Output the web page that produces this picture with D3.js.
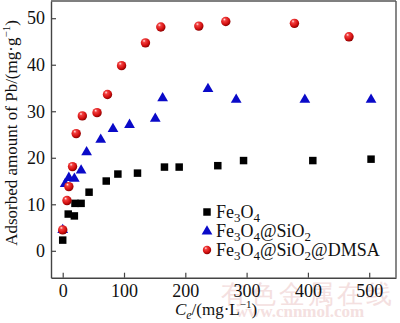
<!DOCTYPE html>
<html><head><meta charset="utf-8">
<script src="https://cdn.jsdelivr.net/npm/d3@7/dist/d3.min.js"></script>
<style>body{margin:0;background:#fff}svg{display:block}text{font-family:"Liberation Serif","Times New Roman",serif}</style>
</head><body><svg id="c" width="400" height="323"></svg>
<script>
const fe3o4X = [0, 9, 19, 20, 30, 43, 71, 90, 122, 166, 190, 253, 295, 408, 503];
const fe3o4Y = [2.3, 7.9, 7.5, 10.2, 10.2, 12.6, 15.0, 16.5, 16.7, 18.0, 18.0, 18.3, 19.4, 19.4, 19.7];
const sio2X = [0, 4, 10, 19, 30, 39, 62, 82, 109, 151, 163, 237, 283, 395, 503];
const sio2Y = [4.6, 14.5, 15.8, 15.6, 17.4, 21.3, 24.0, 26.3, 27.2, 28.5, 32.9, 34.9, 32.6, 32.6, 32.6];
const dmsaX = [0, 7, 10, 16, 22, 32, 56, 73, 96, 135, 160, 222, 266, 378, 467];
const dmsaY = [4.5, 10.8, 13.8, 18.1, 25.2, 29.0, 29.7, 33.6, 39.8, 44.7, 48.1, 48.3, 49.3, 48.9, 46.0];
const xTicks = [0, 100, 200, 300, 400, 500];
const yTicks = [0, 10, 20, 30, 40, 50];

const svg = d3.select("#c");
const L = 51, R = 396, T = 1, B = 277.7;
const x = d3.scaleLinear().domain([-19.1, 543.7]).range([L, R]);
const y = d3.scaleLinear().domain([-5.78, 53.7]).range([B, T]);

// watermark
svg.append("text").attr("x", 308).attr("y", 303).attr("text-anchor", "middle")
  .attr("font-family", "Noto Sans CJK SC").attr("font-size", 26).attr("fill", "#f4e0e0")
  .attr("letter-spacing", 3).text("有色金属在线");
svg.append("text").attr("x", 300).attr("y", 317).attr("text-anchor", "middle")
  .attr("font-size", 17).attr("font-weight", "bold").attr("fill", "#f4e0e0").text("www.cnnmol.com");

// axes
const gx = svg.append("g").attr("transform", `translate(0,${B})`)
  .call(d3.axisBottom(x).tickValues(xTicks).tickSizeInner(-5).tickSizeOuter(0));
const gy = svg.append("g").attr("transform", `translate(${L},0)`)
  .call(d3.axisLeft(y).tickValues(yTicks).tickSizeInner(-5).tickSizeOuter(0).tickPadding(7));
[gx, gy].forEach(g => {
  g.selectAll("text").attr("font-size", 18).attr("fill", "#111").attr("font-family", "Liberation Serif");
  g.selectAll("line").attr("stroke", "#444").attr("stroke-width", 1.2);
  g.select(".domain").attr("stroke", "#444").attr("stroke-width", 1.4);
});
gx.selectAll("text").attr("dy", 0).attr("y", 19.5);
gy.selectAll("text").attr("x", -6);
// frame top & right
svg.append("line").attr("x1", L).attr("x2", R).attr("y1", T).attr("y2", T).attr("stroke", "#555").attr("stroke-width", 1.4);
svg.append("line").attr("x1", R).attr("x2", R).attr("y1", T).attr("y2", B).attr("stroke", "#555").attr("stroke-width", 1.4);

// gradient for spheres
const defs = svg.append("defs");
const rg = defs.append("radialGradient").attr("id", "sph").attr("cx", "40%").attr("cy", "35%").attr("r", "65%").attr("fx", "35%").attr("fy", "28%");
rg.append("stop").attr("offset", "0%").attr("stop-color", "#ffe8e8");
rg.append("stop").attr("offset", "25%").attr("stop-color", "#f24040");
rg.append("stop").attr("offset", "70%").attr("stop-color", "#d41010");
rg.append("stop").attr("offset", "100%").attr("stop-color", "#8a0000");

const sq = d3.symbol().type(d3.symbolSquare).size(56);
const tri = d3.symbol().type(d3.symbolTriangle).size(50);

const plot = svg.append("g");
plot.selectAll(".sq").data(fe3o4X).join("path").attr("d", sq)
  .attr("transform", (d, i) => `translate(${x(d)},${y(fe3o4Y[i])})`).attr("fill", "#000");
plot.selectAll(".tr").data(sio2X).join("path").attr("d", tri)
  .attr("transform", (d, i) => `translate(${x(d)},${y(sio2Y[i]) + 0.5})`).attr("fill", "#0a0ac8");
plot.selectAll(".sp").data(dmsaX).join("circle")
  .attr("cx", d => x(d)).attr("cy", (d, i) => y(dmsaY[i])).attr("r", 4.7).attr("fill", "url(#sph)");

// legend
const lg = svg.append("g");
const rows = [
  {parts: [["Fe", 0], ["3", 1], ["O", 0], ["4", 1]], mk: "sq"},
  {parts: [["Fe", 0], ["3", 1], ["O", 0], ["4", 1], ["@SiO", 0], ["2", 1]], mk: "tr"},
  {parts: [["Fe", 0], ["3", 1], ["O", 0], ["4", 1], ["@SiO", 0], ["2", 1], ["@DMSA", 0]], mk: "sp"}
];
rows.forEach((r, i) => {
  const cy = 212 + i * 19;
  if (r.mk === "sq") lg.append("path").attr("d", sq).attr("transform", `translate(207,${cy})`).attr("fill", "#000");
  if (r.mk === "tr") lg.append("path").attr("d", tri).attr("transform", `translate(207,${cy + 0.5})`).attr("fill", "#0a0ac8");
  if (r.mk === "sp") lg.append("circle").attr("cx", 207).attr("cy", cy).attr("r", 4.2).attr("fill", "url(#sph)");
  const t = lg.append("text").attr("x", 216).attr("y", cy + 6).attr("font-size", 18).attr("fill", "#111");
  r.parts.forEach((p, j) => {
    const prev = j > 0 ? r.parts[j - 1][1] : 0;
    const ts = t.append("tspan").text(p[0]);
    if (p[1]) ts.attr("font-size", 13);
    ts.attr("dy", p[1] && !prev ? 4 : (!p[1] && prev ? -4 : 0));
  });
});

// axis titles
const xt = svg.append("text").attr("x", 216).attr("y", 315).attr("text-anchor", "middle").attr("font-size", 17).attr("fill", "#111");
xt.append("tspan").attr("font-style", "italic").text("C");
xt.append("tspan").attr("font-size", 12).attr("dy", 4).attr("font-style", "italic").text("e");
xt.append("tspan").attr("dy", -4).text("/(mg·L");
xt.append("tspan").attr("font-size", 11).attr("dy", -7).text("−1");
xt.append("tspan").attr("dy", 7).text(")");

const yt = svg.append("text").attr("transform", "translate(17,133) rotate(-90)").attr("text-anchor", "middle").attr("font-size", 17).attr("fill", "#111");
yt.append("tspan").text("Adsorbed amount of Pb/(mg·g");
yt.append("tspan").attr("font-size", 11).attr("dy", -7).text("−1");
yt.append("tspan").attr("dy", 7).text(")");
</script></body></html>
